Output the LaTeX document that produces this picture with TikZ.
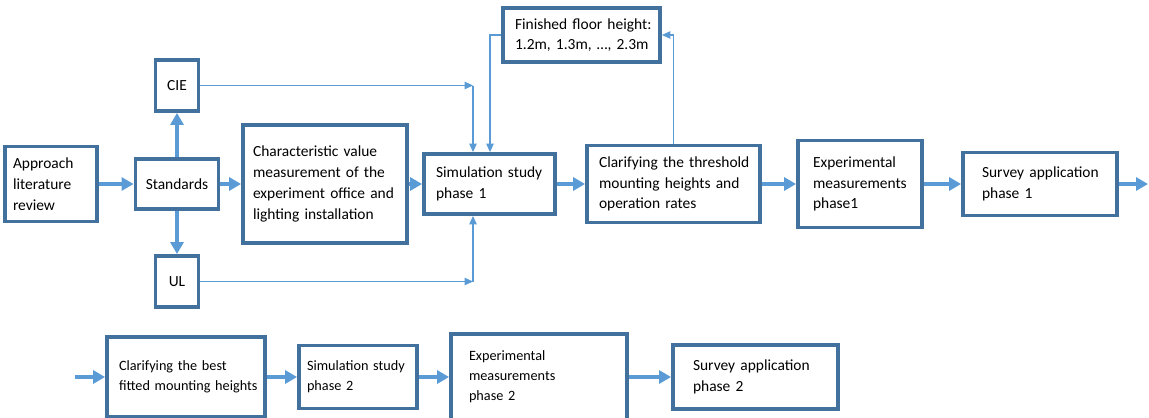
\documentclass[tikz,border=0pt]{standalone}
\usepackage{fontspec}
\setmainfont{Carlito}
\usetikzlibrary{arrows.meta}
\definecolor{boxblue}{HTML}{41719C}
\definecolor{flowblue}{HTML}{5B9BD5}

\begin{document}
\begin{tikzpicture}[x=0.02cm,y=-0.02cm,
	box/.style={draw=boxblue,line width=2.2pt,fill=white,align=left,
		inner ysep=0pt,font=\fontsize{8.8}{11.8}\selectfont,
		execute at begin node={\hyphenpenalty=10000\exhyphenpenalty=10000}},
	lowbox/.style={box,font=\fontsize{8.1}{11.4}\selectfont},
	flow/.style={draw=flowblue,line width=2.2pt,
		-{Triangle[length=0.24cm,width=0.26cm]}},
	link/.style={draw=flowblue,line width=0.6pt,
		-{Triangle[length=0.17cm,width=0.15cm]}}]

\useasboundingbox (0,0) rectangle (1149,417);

\node [box,minimum height=1.5cm,inner xsep=0.16cm,text width=1.52cm]
	(approach) at (51,184) {Approach\\literature\\review};
\node [box,minimum width=1.66cm,minimum height=1cm,align=center]
	(standards) at (177,184) {Standards};
\node [box,minimum width=0.86cm,minimum height=1.02cm,align=center]
	(cie) at (177,85.5) {CIE};
\node [box,minimum width=0.86cm,minimum height=1.02cm,align=center]
	(ul) at (177,281.5) {UL};
\node [box,minimum height=2.36cm,inner xsep=0.2cm,text width=2.88cm]
	(charv) at (325,184) {Characteristic~value\\measurement~of~the\\experiment~office~and\\lighting~installation};
\node [box,minimum height=1.2cm,inner xsep=0.24cm,text width=2.14cm]
	(sim1) at (489.5,184) {Simulation~study\\phase~1};
\node [box,minimum height=1.08cm,inner xsep=0.24cm,text width=2.66cm]
	(floor) at (581.5,35) {Finished~floor~height:\\1.2m,~1.3m,~\dots,~2.3m};
\node [box,minimum height=1.54cm,inner xsep=0.24cm,text width=2.98cm]
	(thresh) at (673.5,184) {Clarifying~the~threshold\\mounting~heights~and\\operation~rates};
\node [box,minimum height=1.74cm,inner xsep=0.3cm,text width=1.88cm]
	(exp1) at (860,184) {Experimental\\measurements\\phase1};
\node [box,minimum height=1.26cm,inner xsep=0.38cm,text width=2.32cm]
	(survey1) at (1040,184) {Survey~application\\phase~1};

\node [lowbox,minimum height=1.6cm,inner xsep=0.24cm,text width=2.68cm]
	(best) at (186,377) {Clarifying~the~best\\fitted~mounting~heights};
\node [lowbox,minimum height=1.26cm,inner xsep=0.16cm,text width=2.04cm]
	(sim2) at (358,377) {Simulation~study\\phase~2};
\node [lowbox,minimum height=1.72cm,inner xsep=0.36cm,text width=2.8cm]
	(exp2) at (539,377) {Experimental\\measurements\\phase~2};
\node [box,minimum height=1.28cm,inner xsep=0.4cm,text width=2.5cm]
	(survey2) at (755.5,377) {Survey~application\\phase~2};

\coordinate (out) at (1148,184);
\coordinate (in) at (75,377);
\coordinate (cieturn) at (473,85.5);
\coordinate (ulturn) at (473,281.5);
\coordinate (floorturn) at (490,35);

%%%%%%%%%%%%%%%%%%%%%%%%%%%%%%%%%%%%%%%%%%

\draw [flow] (approach) -- (standards);
\draw [flow] (standards) -- (cie);
\draw [flow] (standards) -- (ul);
\draw [flow] (standards) -- (charv);
\draw [flow] (charv) -- (sim1);
\draw [flow] (sim1) -- (thresh);
\draw [flow] (thresh) -- (exp1);
\draw [flow] (exp1) -- (survey1);
\draw [flow] (survey1) -- (out);

%%%%%%%%%%%%%%%%%%%%%%%%%%%%%%%%%%%%%%%%%%

\draw [link] (cie) -- (cieturn);
\draw [link] (cieturn) -- (cieturn |- sim1.north);
\draw [link] (ul) -- (ulturn);
\draw [link] (ulturn) -- (ulturn |- sim1.south);
\draw [link] (floor.west) -- (floorturn) -- (floorturn |- sim1.north);
\draw [link] (thresh.north) |- (floor.east);

%%%%%%%%%%%%%%%%%%%%%%%%%%%%%%%%%%%%%%%%%%

\draw [flow] (in) -- (best);
\draw [flow] (best) -- (sim2);
\draw [flow] (sim2) -- (exp2);
\draw [flow] (exp2) -- (survey2);

\end{tikzpicture}
\end{document}
